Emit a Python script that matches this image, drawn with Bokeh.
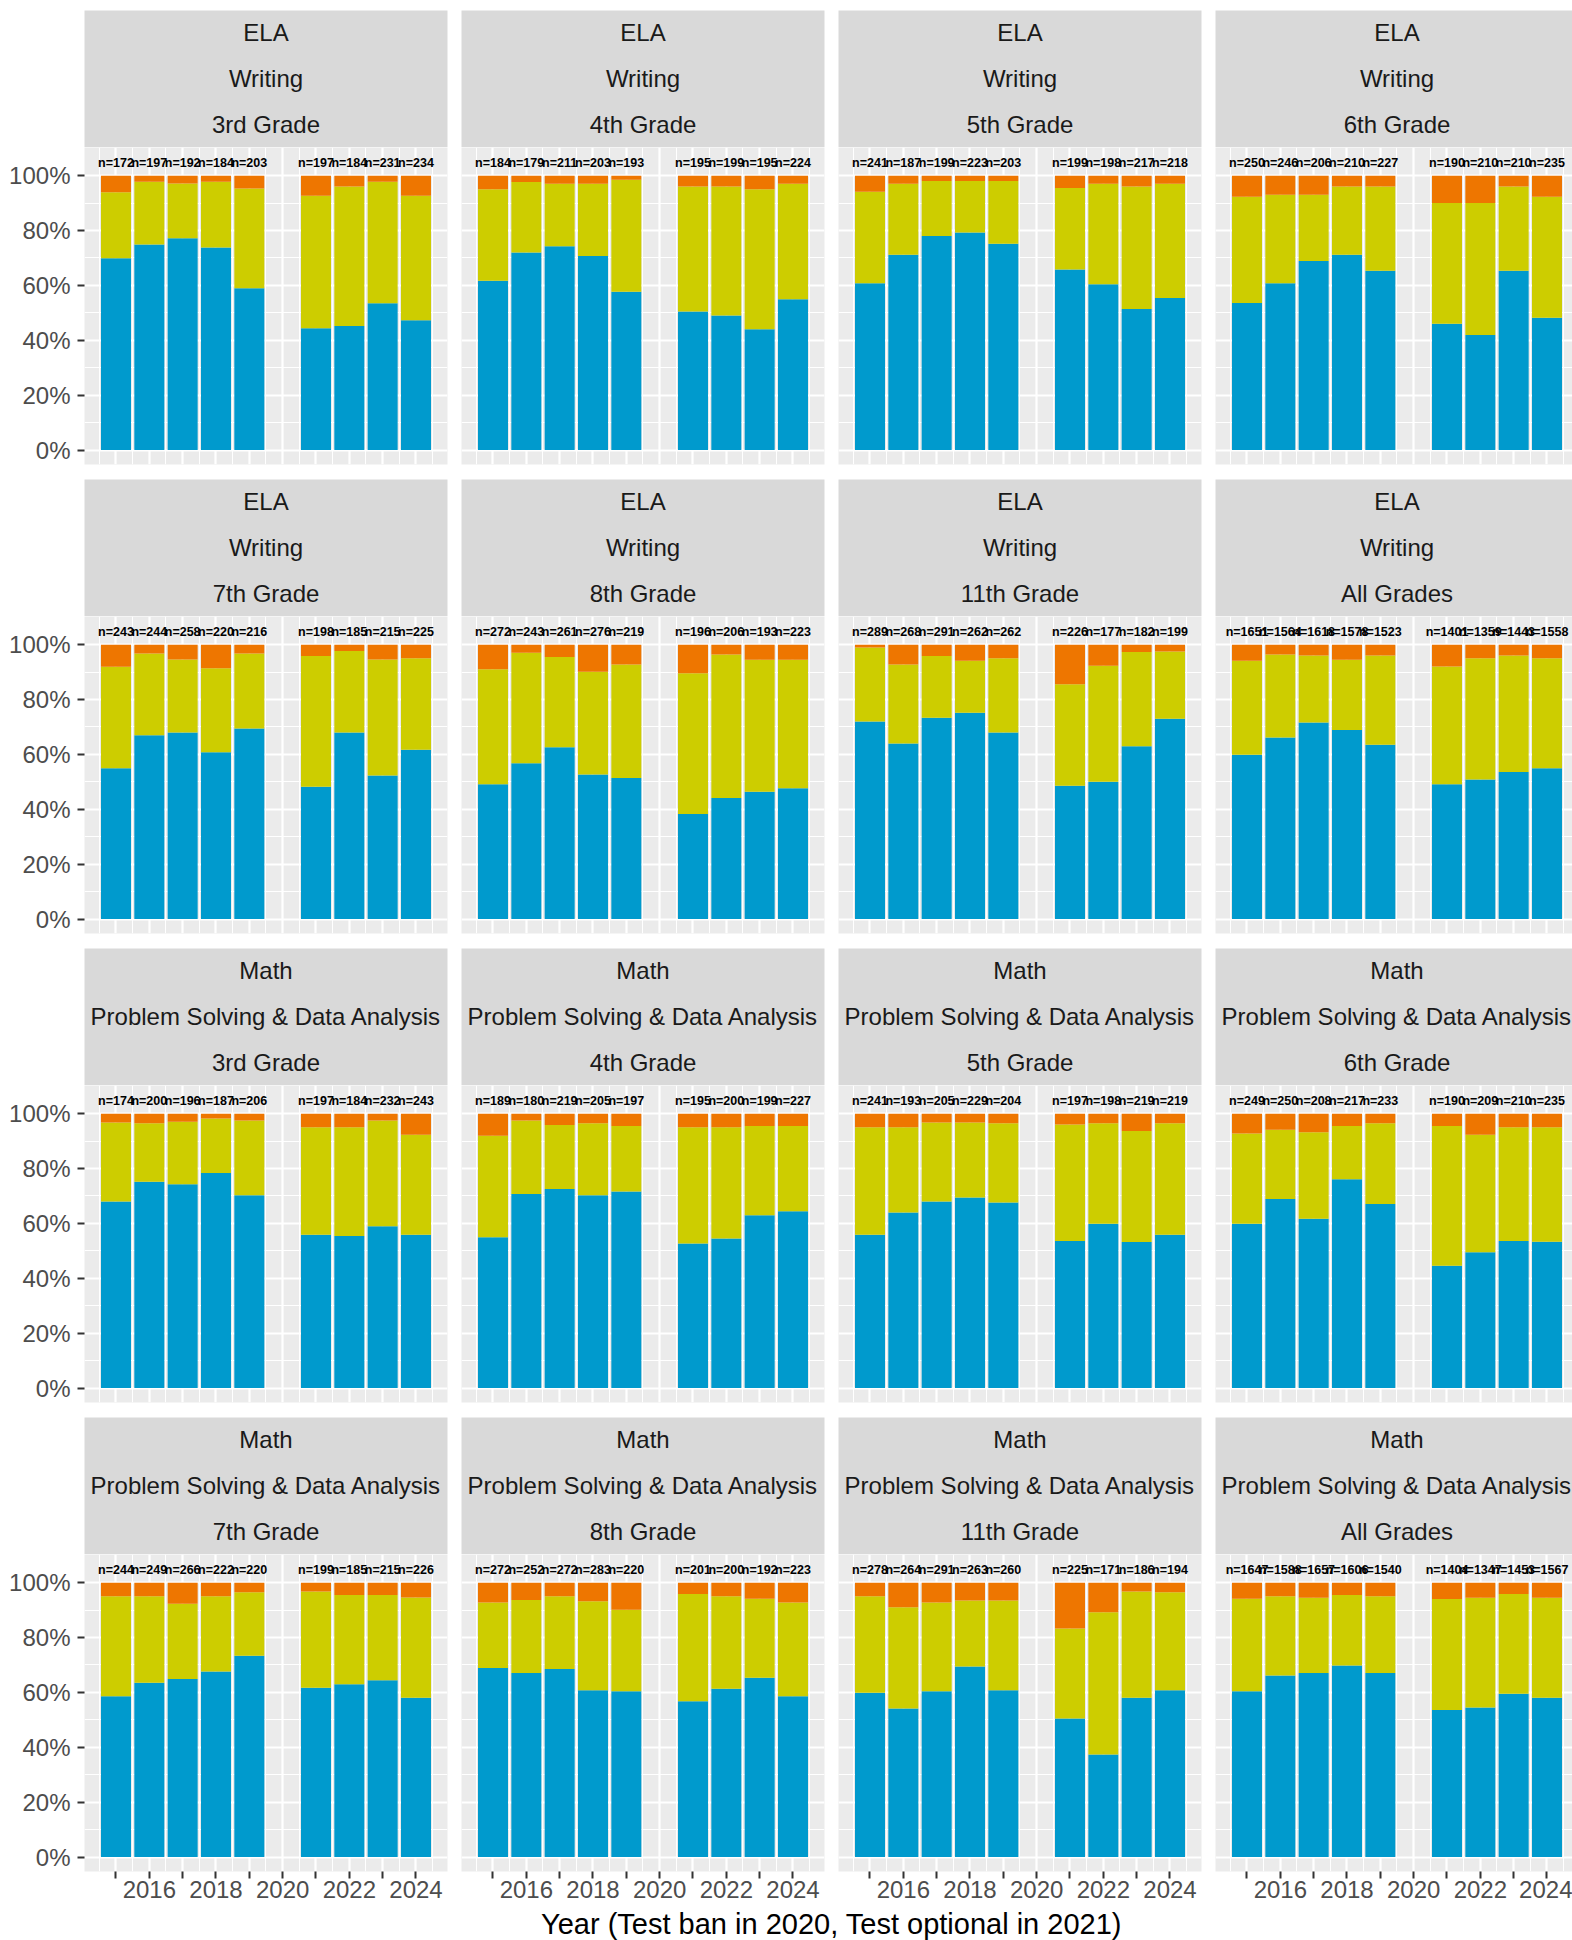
from bokeh.plotting import figure
from bokeh.layouts import row, column
from bokeh.models import Range1d, FixedTicker, NumeralTickFormatter, ColumnDataSource, Grid, LinearAxis
from bokeh.core.properties import value
from bokeh.embed import file_html
from bokeh.resources import INLINE

# ---------------- data ----------------
years = [2015, 2016, 2017, 2018, 2019, 2021, 2022, 2023, 2024]
axis_years = [2015, 2016, 2017, 2018, 2019, 2020, 2021, 2022, 2023, 2024]
grade_names = ["3rd Grade", "4th Grade", "5th Grade", "6th Grade",
               "7th Grade", "8th Grade", "11th Grade", "All Grades"]
x_title = "Year (Test ban in 2020, Test optional in 2021)"

# lower (blue) share, %, and cumulative share of blue + yellow, %
ela_g3_blue = [69.9, 74.9, 77.2, 73.8, 59.0, 44.4, 45.2, 53.5, 47.3]
ela_g3_upper = [93.9, 97.8, 97.1, 97.8, 95.3, 92.7, 96.0, 97.8, 92.7]
ela_g3_n = [172, 197, 192, 184, 203, 197, 184, 231, 234]
ela_g4_blue = [61.7, 72.0, 74.3, 70.7, 57.7, 50.5, 49.0, 44.0, 55.0]
ela_g4_upper = [95.0, 97.7, 97.0, 97.0, 98.5, 96.0, 96.0, 95.0, 97.0]
ela_g4_n = [184, 179, 211, 203, 193, 195, 199, 195, 224]
ela_g5_blue = [60.8, 71.2, 78.0, 79.3, 75.2, 65.8, 60.4, 51.4, 55.4]
ela_g5_upper = [94.1, 97.0, 98.0, 98.0, 98.0, 95.5, 97.0, 96.0, 97.0]
ela_g5_n = [241, 187, 199, 223, 203, 199, 198, 217, 218]
ela_g6_blue = [53.6, 60.8, 68.9, 71.2, 65.3, 46.0, 41.9, 65.3, 48.2]
ela_g6_upper = [92.3, 93.0, 93.0, 96.0, 96.0, 90.0, 90.0, 96.0, 92.3]
ela_g6_n = [250, 246, 206, 210, 227, 190, 210, 210, 235]
ela_g7_blue = [55.0, 67.0, 68.0, 60.8, 69.4, 48.2, 68.0, 52.3, 61.7]
ela_g7_upper = [91.9, 96.8, 94.6, 91.4, 96.8, 95.9, 97.7, 94.6, 95.0]
ela_g7_n = [243, 244, 258, 220, 216, 198, 185, 215, 225]
ela_g8_blue = [49.1, 56.8, 62.6, 52.7, 51.4, 38.3, 44.1, 46.4, 47.7]
ela_g8_upper = [91.0, 97.0, 95.5, 90.1, 92.8, 89.6, 96.4, 94.5, 94.5]
ela_g8_n = [272, 243, 261, 276, 219, 196, 206, 193, 223]
ela_g11_blue = [72.0, 64.0, 73.4, 75.2, 68.0, 48.6, 50.0, 63.0, 73.0]
ela_g11_upper = [99.0, 92.8, 95.9, 94.1, 95.0, 85.6, 92.3, 97.3, 97.5]
ela_g11_n = [289, 268, 291, 262, 262, 226, 177, 182, 199]
ela_all_blue = [59.9, 66.2, 71.6, 68.9, 63.5, 49.1, 50.9, 53.6, 55.0]
ela_all_upper = [94.1, 96.4, 96.0, 94.5, 96.0, 92.0, 95.0, 96.0, 95.0]
ela_all_n = [1651, 1564, 1618, 1578, 1523, 1401, 1359, 1443, 1558]

math_g3_blue = [68.0, 75.2, 74.3, 78.4, 70.3, 55.9, 55.4, 59.0, 55.9]
math_g3_upper = [96.8, 96.5, 97.0, 98.2, 97.5, 95.0, 95.0, 97.5, 92.3]
math_g3_n = [174, 200, 196, 187, 206, 197, 184, 232, 243]
math_g4_blue = [55.0, 70.7, 72.5, 70.3, 71.6, 52.7, 54.5, 63.0, 64.4]
math_g4_upper = [91.9, 97.5, 95.9, 96.5, 95.5, 95.0, 95.0, 95.5, 95.5]
math_g4_n = [189, 180, 219, 205, 197, 195, 200, 199, 227]
math_g5_blue = [55.9, 64.0, 68.0, 69.4, 67.6, 53.6, 59.9, 53.2, 55.9]
math_g5_upper = [95.0, 95.0, 96.8, 96.8, 96.5, 96.0, 96.5, 93.7, 96.5]
math_g5_n = [241, 193, 205, 229, 204, 197, 198, 219, 219]
math_g6_blue = [59.9, 68.9, 61.7, 76.1, 67.1, 44.6, 49.5, 53.6, 53.3]
math_g6_upper = [92.8, 94.1, 93.2, 95.5, 96.5, 95.5, 92.3, 95.0, 95.0]
math_g6_n = [249, 250, 208, 217, 233, 190, 209, 210, 235]
math_g7_blue = [58.6, 63.5, 64.9, 67.6, 73.4, 61.7, 63.0, 64.4, 58.1]
math_g7_upper = [95.0, 95.0, 92.3, 95.0, 96.5, 96.8, 95.5, 95.5, 94.6]
math_g7_n = [244, 249, 266, 222, 220, 199, 185, 215, 226]
math_g8_blue = [68.9, 67.1, 68.5, 60.8, 60.4, 56.8, 61.3, 65.3, 58.6]
math_g8_upper = [92.8, 93.7, 95.0, 93.2, 90.1, 95.9, 95.0, 94.1, 92.8]
math_g8_n = [272, 252, 272, 283, 220, 201, 200, 192, 223]
math_g11_blue = [59.9, 54.1, 60.4, 69.4, 60.8, 50.5, 37.4, 58.1, 60.8]
math_g11_upper = [95.0, 91.0, 92.8, 93.5, 93.5, 83.3, 89.2, 96.8, 96.5]
math_g11_n = [278, 264, 291, 263, 260, 225, 171, 186, 194]
math_all_blue = [60.4, 66.2, 67.1, 69.8, 67.1, 53.6, 54.5, 59.5, 58.1]
math_all_upper = [94.1, 95.0, 94.5, 95.5, 95.0, 94.0, 94.5, 95.9, 94.5]
math_all_n = [1647, 1588, 1657, 1606, 1540, 1404, 1347, 1453, 1567]

ela_panels = [
    (ela_g3_blue, ela_g3_upper, ela_g3_n), (ela_g4_blue, ela_g4_upper, ela_g4_n),
    (ela_g5_blue, ela_g5_upper, ela_g5_n), (ela_g6_blue, ela_g6_upper, ela_g6_n),
    (ela_g7_blue, ela_g7_upper, ela_g7_n), (ela_g8_blue, ela_g8_upper, ela_g8_n),
    (ela_g11_blue, ela_g11_upper, ela_g11_n), (ela_all_blue, ela_all_upper, ela_all_n),
]
math_panels = [
    (math_g3_blue, math_g3_upper, math_g3_n), (math_g4_blue, math_g4_upper, math_g4_n),
    (math_g5_blue, math_g5_upper, math_g5_n), (math_g6_blue, math_g6_upper, math_g6_n),
    (math_g7_blue, math_g7_upper, math_g7_n), (math_g8_blue, math_g8_upper, math_g8_n),
    (math_g11_blue, math_g11_upper, math_g11_n), (math_all_blue, math_all_upper, math_all_n),
]
panels = ([("ELA", "Writing", g, d) for g, d in zip(grade_names, ela_panels)] +
          [("Math", "Problem Solving & Data Analysis", g, d) for g, d in zip(grade_names, math_panels)])

# ---------------- style ----------------
BLUE, YELLOW, ORANGE = "#009ACD", "#CDCD00", "#EE7600"
PANEL_BG, STRIP_BG = "#EBEBEB", "#D9D9D9"
FONT = "Liberation Sans"
FW = 363          # panel frame width
FH = 317          # panel frame height
SH = 137          # strip height
GAP_X, GAP_Y = 14, 15
LEFT = 84
TOP = 10
AXH = 36
PX_PER_YEAR = 33.333
X0 = 2014.055
Y0, Y1 = -0.0525, 1.1025

TOTAL_W = 1572
TOTAL_H = 1940
LAST_FW = TOTAL_W - (LEFT + 3 * (FW + GAP_X))


def strip_fig(subj, skill, grade, r, c):
    fw = FW if c < 3 else LAST_FW
    left = LEFT if c == 0 else 0
    right = GAP_X if c < 3 else 0
    top = TOP if r == 0 else 0
    s = figure(width=left + fw + right, height=SH + top, title=None,
               x_range=Range1d(0, fw), y_range=Range1d(0, SH),
               x_axis_location=None, y_axis_location=None,
               min_border_left=left, min_border_right=right, min_border_top=top, min_border_bottom=0,
               background_fill_color=STRIP_BG, border_fill_color="white", outline_line_color=None,
               toolbar_location=None, output_backend="svg")
    s.center = [m for m in s.center if not isinstance(m, Grid)]
    s.text(x=[FW / 2] * 3, y=[SH - 21.5, SH - 68, SH - 113.5], text=[subj, skill, grade],
           text_align="center", text_baseline="middle", text_color="#1A1A1A",
           text_font=value(FONT), text_font_size="24px")
    return s


def panel_fig(blue, upper, ns, r, c):
    fw = FW if c < 3 else LAST_FW
    left = LEFT if c == 0 else 0
    right = GAP_X if c < 3 else 0
    bottom = GAP_Y if r < 3 else AXH
    p = figure(width=left + fw + right, height=FH + bottom, title=None,
               x_range=Range1d(X0, X0 + fw / PX_PER_YEAR), y_range=Range1d(Y0, Y1),
               x_axis_location=None, y_axis_location=None,
               min_border_left=left, min_border_right=right, min_border_top=0, min_border_bottom=bottom,
               background_fill_color=PANEL_BG, border_fill_color="white", outline_line_color=None,
               toolbar_location=None, output_backend="svg")
    p.center = [m for m in p.center if not isinstance(m, Grid)]
    xt = FixedTicker(ticks=axis_years, minor_ticks=[y - 0.5 for y in axis_years] + [2024.5])
    yt = FixedTicker(ticks=[0, 0.2, 0.4, 0.6, 0.8, 1.0], minor_ticks=[0.1, 0.3, 0.5, 0.7, 0.9])
    for dim, tk in ((0, xt), (1, yt)):
        p.add_layout(Grid(dimension=dim, ticker=tk, grid_line_color="white", grid_line_width=2.2,
                          minor_grid_line_color="white", minor_grid_line_width=1.1), "center")
    if c == 0:
        ya = LinearAxis(ticker=yt, formatter=NumeralTickFormatter(format="0%"))
        ya.axis_line_color = None
        ya.major_tick_line_color = "#333333"
        ya.major_tick_line_width = 2
        ya.major_tick_out = 7
        ya.major_tick_in = 0
        ya.minor_tick_out = 0
        ya.minor_tick_in = 0
        ya.major_label_standoff = 7
        ya.major_label_text_font = FONT
        ya.major_label_text_font_size = "24px"
        ya.major_label_text_color = "#4D4D4D"
        p.add_layout(ya, "left")
    if r == 3:
        xa = LinearAxis(ticker=xt)
        xa.major_label_overrides = {y: "" for y in axis_years if y % 2 == 1}
        xa.axis_line_color = None
        xa.major_tick_line_color = "#333333"
        xa.major_tick_line_width = 2
        xa.major_tick_out = 7
        xa.major_tick_in = 0
        xa.minor_tick_out = 0
        xa.minor_tick_in = 0
        xa.major_label_standoff = 2
        xa.major_label_text_font = FONT
        xa.major_label_text_font_size = "24px"
        xa.major_label_text_color = "#4D4D4D"
        p.add_layout(xa, "below")
    src = ColumnDataSource(dict(
        x=years,
        zero=[0.0] * len(years),
        b=[v / 100 for v in blue],
        u=[v / 100 for v in upper],
        one=[1.0] * len(years),
        lab=["n=%d" % n for n in ns],
    ))
    p.vbar(x="x", bottom="zero", top="b", width=0.9, source=src, fill_color=BLUE, line_color=None)
    p.vbar(x="x", bottom="b", top="u", width=0.9, source=src, fill_color=YELLOW, line_color=None)
    p.vbar(x="x", bottom="u", top="one", width=0.9, source=src, fill_color=ORANGE, line_color=None)
    p.text(x="x", y=1.045, text="lab", source=src, text_align="center", text_baseline="middle",
           text_color="black", text_font=value(FONT), text_font_size="12.5px",
           text_font_style="bold")
    return p


cols = []
for c in range(4):
    kids = []
    for r in range(4):
        subj, skill, grade, (blue, upper, ns) = panels[r * 4 + c]
        kids.append(strip_fig(subj, skill, grade, r, c))
        kids.append(panel_fig(blue, upper, ns, r, c))
    cols.append(column(kids, spacing=0))
grid = row(cols, spacing=0)

used_h = TOP + 4 * SH + 3 * (FH + GAP_Y) + FH + AXH
title_h = TOTAL_H - used_h
t = figure(width=TOTAL_W, height=title_h, title=None,
           x_range=Range1d(0, TOTAL_W), y_range=Range1d(0, title_h),
           x_axis_location=None, y_axis_location=None,
           min_border=0, background_fill_color="white", border_fill_color="white",
           outline_line_color=None, toolbar_location=None, output_backend="svg")
t.center = [m for m in t.center if not isinstance(m, Grid)]
t.text(x=[831], y=[title_h / 2], text=[x_title], text_align="center",
       text_baseline="middle", text_color="black", text_font=value(FONT), text_font_size="29px")

layout = column([grid, t], spacing=0)
open("out.html", "w").write(file_html(layout, INLINE))
